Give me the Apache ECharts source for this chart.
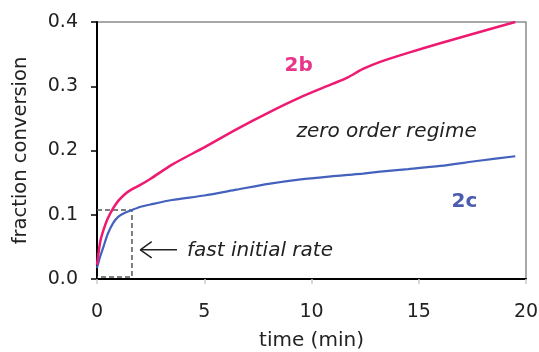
<!DOCTYPE html>
<html>
<head>
<meta charset="utf-8">
<script src="https://cdn.jsdelivr.net/npm/echarts@6/dist/echarts.min.js"></script>
<style>
  html, body { margin: 0; padding: 0; background: #fff; }
  #chart { width: 539px; height: 352px; }
</style>
</head>
<body>
<div id="chart"></div>
<script>
(function() {
  var times = [0, 0.15, 0.3, 0.5, 0.75, 1, 1.3, 1.6, 2, 2.5, 3.5, 5, 6.5, 8, 9.5, 11, 11.7, 12.4, 13.2, 14.5, 16, 17.8, 19.5];
  var conv2b = [0.022, 0.058, 0.076, 0.094, 0.11, 0.122, 0.132, 0.139, 0.146, 0.156, 0.178, 0.205, 0.233, 0.259, 0.283, 0.304, 0.314, 0.327, 0.338, 0.352, 0.367, 0.384, 0.400];
  var conv2c = [0.017, 0.035, 0.05, 0.07, 0.087, 0.097, 0.103, 0.107, 0.112, 0.116, 0.123, 0.130, 0.139, 0.148, 0.155, 0.160, 0.162, 0.164, 0.167, 0.171, 0.176, 0.184, 0.191];
  var xTicks = [0, 5, 10, 15, 20];
  var yTicks = [0.0, 0.1, 0.2, 0.3, 0.4];

  // dashed box marking the fast initial rate
  var boxCorner = [1.63, 0.1074];
  var boxFloor = 0.003;

  var pink = '#ee1a72';
  var blue = '#4462bd';
  var ink = '#222';
  var font = 'DejaVu Sans';

  function pairs(xs, ys) {
    return xs.map(function(x, i) { return [x, ys[i]]; });
  }

  var chart = echarts.init(document.getElementById('chart'), null, { renderer: 'canvas' });
  chart.setOption({
    animation: false,
    backgroundColor: '#fff',
    grid: {
      left: 97, right: 13, top: 22, bottom: 73,
      outerBoundsMode: 'none',
      show: true, borderColor: '#8c8c8c', borderWidth: 1.5, backgroundColor: '#fff'
    },
    xAxis: {
      type: 'value',
      min: xTicks[0], max: xTicks[xTicks.length - 1], interval: 5,
      name: 'time (min)',
      nameLocation: 'middle',
      nameGap: 52,
      nameTextStyle: { color: ink, fontSize: 20, fontFamily: font },
      axisLine: { onZero: false, lineStyle: { color: '#000', width: 2 } },
      axisTick: { show: true, length: 5, lineStyle: { color: '#ccc', width: 1.5 } },
      axisLabel: { color: ink, fontSize: 19, fontFamily: font, margin: 24 },
      splitLine: { show: false }
    },
    yAxis: {
      type: 'value',
      min: yTicks[0], max: yTicks[yTicks.length - 1], interval: 0.1,
      name: 'fraction conversion',
      nameLocation: 'middle',
      nameGap: 66,
      nameTextStyle: { color: ink, fontSize: 19.5, fontFamily: font },
      axisLine: { onZero: false, lineStyle: { color: '#000', width: 2 } },
      axisTick: { show: true, length: 6, lineStyle: { color: '#000', width: 1.5 } },
      axisLabel: {
        color: ink, fontSize: 19, fontFamily: font, margin: 19,
        formatter: function(v) { return v.toFixed(1); }
      },
      splitLine: { show: false }
    },
    series: [
      {
        name: 'box',
        type: 'line',
        data: [[0, boxCorner[1]], boxCorner, [boxCorner[0], boxFloor], [0, boxFloor]],
        symbol: 'none',
        lineStyle: { color: '#555', width: 1.5, type: [5, 3] },
        z: 1
      },
      {
        name: '2c',
        type: 'line',
        data: pairs(times, conv2c),
        smooth: 0.25,
        symbol: 'none',
        lineStyle: { color: blue, width: 2.2 },
        z: 3
      },
      {
        name: '2b',
        type: 'line',
        data: pairs(times, conv2b),
        smooth: 0.25,
        symbol: 'none',
        lineStyle: { color: pink, width: 2.5 },
        z: 4
      },
      {
        name: 'arrowShaft',
        type: 'line',
        data: [[3.73, 0.0455], [2.02, 0.0455]],
        symbol: 'none',
        lineStyle: { color: ink, width: 1.5 }
      },
      {
        name: 'arrowHead',
        type: 'line',
        data: [[2.55, 0.058], [2.02, 0.0455], [2.55, 0.033]],
        symbol: 'none',
        lineStyle: { color: ink, width: 1.5 }
      },
      {
        name: 'notes',
        type: 'scatter',
        data: [],
        markPoint: {
          symbol: 'circle',
          symbolSize: 0,
          data: [
            { coord: [9.4, 0.332], label: { formatter: '2b', color: '#e8358a', fontWeight: 'bold', fontSize: 20 } },
            { coord: [17.13, 0.1206], label: { formatter: '2c', color: '#4a5bb0', fontWeight: 'bold', fontSize: 20 } },
            { coord: [13.5, 0.229], label: { formatter: 'zero order regime', color: ink, fontStyle: 'italic', fontSize: 20 } },
            { coord: [7.6, 0.044], label: { formatter: 'fast initial rate', color: ink, fontStyle: 'italic', fontSize: 20 } }
          ],
          label: { show: true, position: 'inside', fontFamily: font }
        }
      }
    ]
  });
  window.addEventListener('resize', function() { chart.resize(); });
})();
</script>
</body>
</html>
